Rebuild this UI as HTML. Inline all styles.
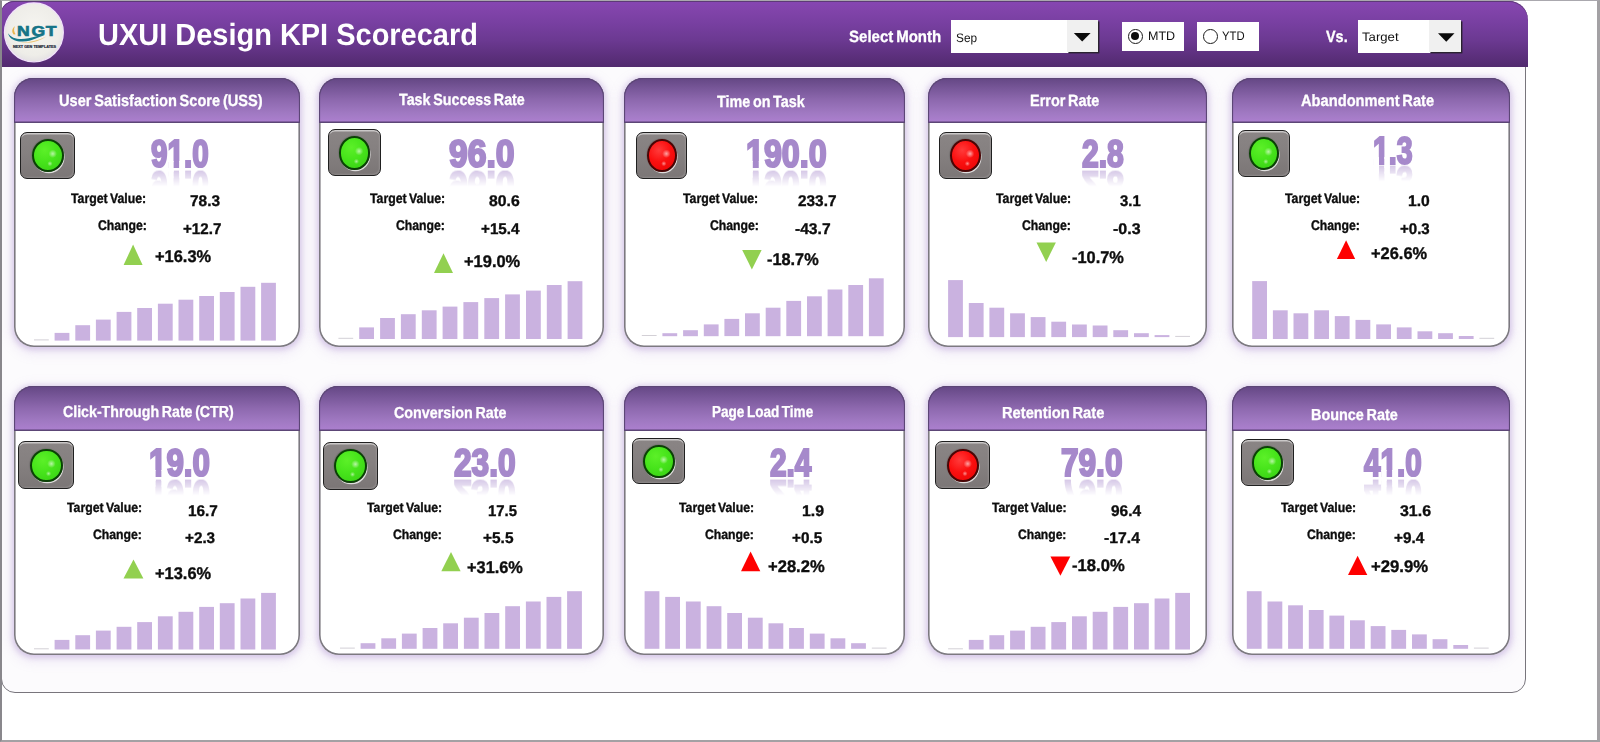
<!DOCTYPE html>
<html lang="en">
<head>
<meta charset="utf-8">
<title>UXUI Design KPI Scorecard</title>
<style>
*{box-sizing:border-box;margin:0;padding:0}
html,body{width:1600px;height:742px;overflow:hidden;background:#fff}
body{position:relative;font-family:"Liberation Sans",sans-serif;color:#111}
.frame{position:absolute;left:0;top:0;width:1600px;height:742px;border:2px solid #a3a1a4;border-top:1px solid rgba(118,114,124,.62);border-left:2px solid #89878c;border-right-width:3px;z-index:50;pointer-events:none}
.panel{position:absolute;left:1px;top:1px;width:1525px;height:692px;border:1px solid #78757c;border-radius:13px 18px 14px 14px;background:#fcfbfd;overflow:hidden}
.topbar{position:absolute;z-index:2;left:1px;top:1px;width:1527px;height:65.5px;border-radius:13px 19px 0 0;
 background:linear-gradient(#8746b3 0%,#8244ab 12%,#773fa0 35%,#6b3991 60%,#5b2f7b 85%,#512a6e 100%);
 box-shadow:inset 0 1px 0 #5d3a77}
.t{position:absolute;white-space:nowrap;transform-origin:0 0;font-weight:bold;margin:0;text-rendering:geometricPrecision}
.t.w{color:#fff}
.t.k{color:#0d0d0d;-webkit-text-stroke-width:.35px;word-spacing:-.09em}
.t.s{-webkit-text-stroke-width:.3px;word-spacing:-.09em}
.t.n{font-weight:normal;color:#111}
.ov{position:absolute;left:0;top:0;pointer-events:none;overflow:visible}
.card{position:absolute;border-radius:19px 19px 20px 20px;background:#fff;
 box-shadow:inset 0 0 0 1.6px #7c7980,0 1px 5px 1.5px rgba(150,115,195,.27),0 3px 12px 4px rgba(165,135,210,.15)}
.chead{position:absolute;left:0;right:0;top:0;height:44.7px;border-radius:19px 19px 0 0;
 background:linear-gradient(#644784 0%,#79589a 25%,#8e69af 50%,#a079c2 78%,#ad80d0 100%);
 box-shadow:inset 0 0 0 1.1px #5c4676,inset 0 -1.6px 0 0 #5a4174}
.val{text-rendering:auto;color:#a689cb;-webkit-text-stroke:2.2px #a689cb;
 -webkit-box-reflect:below -9.4px linear-gradient(to bottom,rgba(255,255,255,0) 42%,rgba(255,255,255,.5) 88%)}
.val i{position:absolute;background:#fff}
.ind{position:absolute;border-radius:7px;border:1.85px solid #202020;
 background:linear-gradient(#8a8585 0%,#858080 45%,#7b7676 100%);
 box-shadow:inset 0 2.2px 0 -0.6px rgba(255,255,255,.55),inset -1.2px -1.2px 1px rgba(255,255,255,.12)}
.ind i{position:absolute;left:20%;top:13.6%;width:61.2%;height:74.6%;border-radius:50%;border:2px solid #0b3d06;
 box-shadow:.9px 1.6px .5px -.35px rgba(255,255,255,.75),-0.5px -0.6px 1px rgba(0,0,0,.2)}
.ind.g i{background:radial-gradient(circle 4.2px at 67% 44%,rgba(255,255,255,.6),rgba(255,255,255,0)),radial-gradient(circle 2.6px at 57% 78%,rgba(255,255,255,.55),rgba(255,255,255,0)),radial-gradient(circle at 38% 32%,#5cf028 0,#47e41b 45%,#3cd616 80%,#34c512 100%);border-color:#0a4205}
.ind.r i{background:radial-gradient(circle 4.2px at 67% 44%,rgba(255,255,255,.6),rgba(255,255,255,0)),radial-gradient(circle 2.6px at 57% 78%,rgba(255,255,255,.55),rgba(255,255,255,0)),radial-gradient(circle at 38% 32%,#ff3a3a 0,#fb1010 45%,#ee0808 80%,#d40606 100%);border-color:#4a0505}
.dd{position:absolute;background:#fff}
.dd b{position:absolute;right:0;top:0;bottom:1px;background:#f0f0f0;box-shadow:1.4px 1.4px 0 #2a2230}
.rb{position:absolute;background:#fff;height:28.8px;width:62.4px;top:21.1px}
.rb i{position:absolute;left:6.4px;top:7.3px;width:14.8px;height:14.8px;border-radius:50%;border:1.35px solid #1a1a1a;background:#fff}
.rb i.on:after{content:"";position:absolute;left:2px;top:2px;width:8.1px;height:8.1px;border-radius:50%;background:#0a0a0a}
</style>
</head>
<body>
<header class="topbar">
<svg class="ov logo" width="70" height="66" viewBox="1 1 70 66">
<defs><radialGradient id="lg" cx="50%" cy="45%" r="55%"><stop offset="0" stop-color="#f6f5f1"/><stop offset=".8" stop-color="#eeede8"/><stop offset="1" stop-color="#e4e1e3"/></radialGradient></defs>
<circle cx="33.9" cy="32.4" r="29.4" fill="url(#lg)" stroke="#f1e2fa" stroke-width="1.3"/>
<path d="M8 33.2 C11.5 38.6 19.5 40.2 28.5 38.2 C35 36.7 39.5 34.9 44.6 35.2 C38.5 36.6 33 41.2 22.5 41.6 C14.5 41.8 9.3 38.4 8 33.2Z" fill="#16788a"/>
<path d="M13.6 34.4 C11.3 31.6 12.2 28.2 14.9 26.3 C13.6 29 13.9 32 15.6 34.2Z" fill="#e9b64e"/>
<path d="M20 42.4 C29 42.6 37.5 40.6 46.4 36.4 C38.5 41.4 29.5 44 20 42.4Z" fill="#e9b64e" opacity=".85"/>
<text transform="translate(16.9 36) scale(1.14 1)" x="0 12.75 25.3" y="0" font-family="Liberation Sans, sans-serif" font-weight="bold" font-size="15.4" fill="#157487" stroke="#157487" stroke-width=".7">NGT</text>
<text x="13" y="47.6" font-family="Liberation Sans, sans-serif" font-weight="bold" font-size="2.6" fill="#1e2a3a" stroke="#1e2a3a" stroke-width=".15" textLength="43" lengthAdjust="spacingAndGlyphs">NEXT GEN TEMPLATES</text>
</svg>
<h1 class="t w" style="left:96.7px;top:19.0px;font-size:30.65px;line-height:30.65px;transform:scaleX(0.9454);">UXUI Design KPI Scorecard</h1>
<div class="t w s" style="left:848.1px;top:28.1px;font-size:16.38px;line-height:16.38px;transform:scaleX(0.9193);">Select Month</div>
<div class="dd" style="left:950px;top:18.5px;width:146.5px;height:33px"><b style="width:31px"></b></div>
<div class="t n" style="left:954.5px;top:30.5px;font-size:12.32px;line-height:12.32px;transform:scaleX(0.9607);">Sep</div>
<div class="rb" style="left:1120.7px"><i class="on"></i></div>
<div class="rb" style="left:1196px"><i></i></div>
<div class="t n" style="left:1146.5px;top:28.9px;font-size:12.46px;line-height:12.46px;transform:scaleX(1.0054);">MTD</div>
<div class="t n" style="left:1221.3px;top:28.9px;font-size:12.46px;line-height:12.46px;transform:scaleX(0.9059);">YTD</div>
<div class="t w s" style="left:1324.9px;top:28.1px;font-size:16.23px;line-height:16.23px;transform:scaleX(0.8893);">Vs.</div>
<div class="dd" style="left:1357.3px;top:19px;width:102.5px;height:33px"><b style="width:31.5px"></b></div>
<div class="t n" style="left:1361.1px;top:29.9px;font-size:12.32px;line-height:12.32px;transform:scaleX(1.0684);">Target</div>
<svg class="ov" width="1527" height="66" viewBox="1 1 1527 66"><polygon points="1073.8,33 1090.6,33 1082.2,41.6" fill="#0a0a0a"/><polygon points="1438,33.3 1454.5,33.3 1446.25,41.8" fill="#0a0a0a"/></svg>
</header>
<main class="panel">
<section class="card" style="left:12px;top:76px;width:286px;height:269px">
<header class="chead"><h2 class="t w s" style="left:44.6px;top:14.5px;font-size:16.23px;line-height:16.23px;transform:scaleX(0.8994);">User Satisfaction Score (USS)</h2></header>
<div class="ind g" style="left:6.0px;top:54.0px;width:55.0px;height:46.7px"><i></i></div>
<div class="t val" style="left:137.0px;top:58.1px;font-size:37.90px;line-height:37.90px;transform:scaleX(0.7809)">91.0<i style="left:21.62px;top:24.91px;width:7.36px;height:10.67px"></i><i style="left:36.07px;top:24.91px;width:6.53px;height:10.67px"></i></div>
<div class="t k" style="left:57.0px;top:114.3px;font-size:13.91px;line-height:13.91px;transform:scaleX(0.8837);">Target Value:</div>
<div class="t k" style="left:175.5px;top:115.8px;font-size:15.51px;line-height:15.51px;transform:scaleX(0.9937);">78.3</div>
<div class="t k" style="left:83.7px;top:140.9px;font-size:13.91px;line-height:13.91px;transform:scaleX(0.8797);">Change:</div>
<div class="t k" style="left:168.7px;top:143.8px;font-size:15.51px;line-height:15.51px;transform:scaleX(0.9779);">+12.7</div>
<div class="t k" style="left:141.4px;top:171.3px;font-size:16.96px;line-height:16.96px;transform:scaleX(0.9685);">+16.3%</div>
<svg class="ov" width="286" height="269" fill="#cab2e0"><polygon points="109.6,187.0 128.6,187.0 119.1,166.6" fill="#92d050"/><rect x="20.0" y="261.4" width="14.8" height="1" fill="#d3d0d6"/><rect x="40.6" y="254.9" width="14.8" height="7.7"/><rect x="61.3" y="247.2" width="14.8" height="15.4"/><rect x="81.9" y="241.6" width="14.8" height="21.0"/><rect x="102.6" y="233.9" width="14.8" height="28.7"/><rect x="123.2" y="230.0" width="14.8" height="32.6"/><rect x="143.9" y="225.7" width="14.8" height="36.9"/><rect x="164.5" y="221.7" width="14.8" height="40.9"/><rect x="185.2" y="218.0" width="14.8" height="44.6"/><rect x="205.8" y="214.0" width="14.8" height="48.6"/><rect x="226.5" y="208.8" width="14.8" height="53.8"/><rect x="247.1" y="204.8" width="14.8" height="57.8"/></svg>
</section>
<section class="card" style="left:317px;top:76px;width:285px;height:269px">
<header class="chead"><h2 class="t w s" style="left:79.6px;top:13.9px;font-size:16.23px;line-height:16.23px;transform:scaleX(0.8808);">Task Success Rate</h2></header>
<div class="ind g" style="left:8.7px;top:51.3px;width:53.0px;height:46.7px"><i></i></div>
<div class="t val" style="left:129.8px;top:58.1px;font-size:37.90px;line-height:37.90px;transform:scaleX(0.8890)">96.0</div>
<div class="t k" style="left:50.5px;top:114.3px;font-size:13.91px;line-height:13.91px;transform:scaleX(0.8837);">Target Value:</div>
<div class="t k" style="left:169.9px;top:115.8px;font-size:15.51px;line-height:15.51px;transform:scaleX(1.0173);">80.6</div>
<div class="t k" style="left:77.2px;top:140.9px;font-size:13.91px;line-height:13.91px;transform:scaleX(0.8797);">Change:</div>
<div class="t k" style="left:162.2px;top:144.2px;font-size:15.51px;line-height:15.51px;transform:scaleX(0.9815);">+15.4</div>
<div class="t k" style="left:145.4px;top:175.9px;font-size:16.96px;line-height:16.96px;transform:scaleX(0.9709);">+19.0%</div>
<svg class="ov" width="285" height="269" fill="#cab2e0"><polygon points="115.0,195.0 134.0,195.0 124.5,175.3" fill="#92d050"/><rect x="19.4" y="259.8" width="14.8" height="1" fill="#d3d0d6"/><rect x="40.2" y="249.4" width="14.8" height="11.6"/><rect x="61.1" y="240.0" width="14.8" height="21.0"/><rect x="81.9" y="236.2" width="14.8" height="24.8"/><rect x="102.8" y="232.3" width="14.8" height="28.7"/><rect x="123.6" y="228.6" width="14.8" height="32.4"/><rect x="144.4" y="224.1" width="14.8" height="36.9"/><rect x="165.3" y="220.1" width="14.8" height="40.9"/><rect x="186.1" y="216.4" width="14.8" height="44.6"/><rect x="207.0" y="212.6" width="14.8" height="48.4"/><rect x="227.8" y="207.0" width="14.8" height="54.0"/><rect x="248.6" y="203.2" width="14.8" height="57.8"/></svg>
</section>
<section class="card" style="left:622px;top:76px;width:281px;height:269px">
<header class="chead"><h2 class="t w s" style="left:92.9px;top:15.5px;font-size:16.23px;line-height:16.23px;transform:scaleX(0.8842);">Time on Task</h2></header>
<div class="ind r" style="left:12.1px;top:54.0px;width:50.8px;height:46.7px"><i></i></div>
<div class="t val" style="left:122.0px;top:58.1px;font-size:37.90px;line-height:37.90px;transform:scaleX(0.8498)">190.0<i style="left:0.54px;top:24.91px;width:7.36px;height:10.67px"></i><i style="left:15.00px;top:24.91px;width:6.53px;height:10.67px"></i></div>
<div class="t k" style="left:59.0px;top:114.3px;font-size:13.91px;line-height:13.91px;transform:scaleX(0.8837);">Target Value:</div>
<div class="t k" style="left:173.6px;top:115.9px;font-size:15.51px;line-height:15.51px;transform:scaleX(0.9911);">233.7</div>
<div class="t k" style="left:85.7px;top:140.9px;font-size:13.91px;line-height:13.91px;transform:scaleX(0.8797);">Change:</div>
<div class="t k" style="left:170.7px;top:143.9px;font-size:15.51px;line-height:15.51px;transform:scaleX(1.0066);">-43.7</div>
<div class="t k" style="left:142.6px;top:173.7px;font-size:16.96px;line-height:16.96px;transform:scaleX(0.9629);">-18.7%</div>
<svg class="ov" width="281" height="269" fill="#cab2e0"><polygon points="118.2,172.0 137.6,172.0 127.9,191.5" fill="#92d050"/><rect x="17.8" y="257.0" width="14.8" height="1" fill="#d3d0d6"/><rect x="38.4" y="255.2" width="14.8" height="3.0"/><rect x="59.1" y="252.2" width="14.8" height="6.0"/><rect x="79.8" y="246.4" width="14.8" height="11.8"/><rect x="100.4" y="240.9" width="14.8" height="17.2"/><rect x="121.0" y="235.3" width="14.8" height="22.9"/><rect x="141.7" y="229.7" width="14.8" height="28.5"/><rect x="162.3" y="222.9" width="14.8" height="35.2"/><rect x="183.0" y="218.3" width="14.8" height="39.9"/><rect x="203.6" y="211.5" width="14.8" height="46.7"/><rect x="224.3" y="207.0" width="14.8" height="51.2"/><rect x="244.9" y="200.3" width="14.8" height="57.9"/></svg>
</section>
<section class="card" style="left:926px;top:76px;width:279px;height:269px">
<header class="chead"><h2 class="t w s" style="left:101.8px;top:15.1px;font-size:16.23px;line-height:16.23px;transform:scaleX(0.8908);">Error Rate</h2></header>
<div class="ind r" style="left:11.4px;top:54.3px;width:52.4px;height:46.4px"><i></i></div>
<div class="t val" style="left:153.6px;top:58.1px;font-size:37.90px;line-height:37.90px;transform:scaleX(0.7943)">2.8</div>
<div class="t k" style="left:67.5px;top:114.3px;font-size:13.91px;line-height:13.91px;transform:scaleX(0.8837);">Target Value:</div>
<div class="t k" style="left:192.2px;top:115.9px;font-size:15.51px;line-height:15.51px;transform:scaleX(0.9582);">3.1</div>
<div class="t k" style="left:94.2px;top:140.9px;font-size:13.91px;line-height:13.91px;transform:scaleX(0.8797);">Change:</div>
<div class="t k" style="left:184.7px;top:143.8px;font-size:15.51px;line-height:15.51px;transform:scaleX(1.0313);">-0.3</div>
<div class="t k" style="left:143.6px;top:172.3px;font-size:16.96px;line-height:16.96px;transform:scaleX(0.9673);">-10.7%</div>
<svg class="ov" width="279" height="269" fill="#cab2e0"><polygon points="108.5,164.5 127.9,164.5 118.2,183.9" fill="#92d050"/><rect x="20.1" y="202.1" width="14.8" height="57.0"/><rect x="40.8" y="225.0" width="14.8" height="34.1"/><rect x="61.4" y="229.7" width="14.8" height="29.4"/><rect x="82.1" y="235.3" width="14.8" height="23.8"/><rect x="102.7" y="239.1" width="14.8" height="20.0"/><rect x="123.3" y="243.7" width="14.8" height="15.4"/><rect x="144.0" y="246.5" width="14.8" height="12.6"/><rect x="164.7" y="247.5" width="14.8" height="11.6"/><rect x="185.3" y="252.2" width="14.8" height="6.9"/><rect x="206.0" y="255.2" width="14.8" height="3.9"/><rect x="226.6" y="257.1" width="14.8" height="2.0"/><rect x="247.2" y="257.9" width="14.8" height="1" fill="#d3d0d6"/></svg>
</section>
<section class="card" style="left:1230px;top:76px;width:278px;height:269px">
<header class="chead"><h2 class="t w s" style="left:69.4px;top:15.1px;font-size:16.23px;line-height:16.23px;transform:scaleX(0.9043);">Abandonment Rate</h2></header>
<div class="ind g" style="left:6.3px;top:52.4px;width:51.4px;height:46.3px"><i></i></div>
<div class="t val" style="left:140.5px;top:54.5px;font-size:37.90px;line-height:37.90px;transform:scaleX(0.7515)">1.3<i style="left:0.54px;top:24.91px;width:7.36px;height:10.67px"></i><i style="left:15.00px;top:24.91px;width:6.53px;height:10.67px"></i></div>
<div class="t k" style="left:52.5px;top:114.3px;font-size:13.91px;line-height:13.91px;transform:scaleX(0.8837);">Target Value:</div>
<div class="t k" style="left:175.8px;top:115.8px;font-size:15.51px;line-height:15.51px;transform:scaleX(1.0103);">1.0</div>
<div class="t k" style="left:79.2px;top:140.9px;font-size:13.91px;line-height:13.91px;transform:scaleX(0.8797);">Change:</div>
<div class="t k" style="left:167.7px;top:143.8px;font-size:15.51px;line-height:15.51px;transform:scaleX(0.9718);">+0.3</div>
<div class="t k" style="left:139.4px;top:167.9px;font-size:16.96px;line-height:16.96px;transform:scaleX(0.9685);">+26.6%</div>
<svg class="ov" width="278" height="269" fill="#cab2e0"><polygon points="104.9,181.1 123.2,181.1 114.1,162.3" fill="#fe0000"/><rect x="20.2" y="203.1" width="14.8" height="57.9"/><rect x="40.9" y="232.3" width="14.8" height="28.7"/><rect x="61.5" y="235.3" width="14.8" height="25.7"/><rect x="82.2" y="232.3" width="14.8" height="28.7"/><rect x="102.8" y="238.1" width="14.8" height="22.9"/><rect x="123.5" y="241.9" width="14.8" height="19.1"/><rect x="144.2" y="246.4" width="14.8" height="14.6"/><rect x="164.8" y="249.4" width="14.8" height="11.6"/><rect x="185.5" y="253.3" width="14.8" height="7.7"/><rect x="206.1" y="255.2" width="14.8" height="5.8"/><rect x="226.8" y="258.0" width="14.8" height="3.0"/><rect x="247.4" y="259.8" width="14.8" height="1" fill="#d3d0d6"/></svg>
</section>
<section class="card" style="left:12px;top:384px;width:286px;height:269px">
<header class="chead"><h2 class="t w s" style="left:49.4px;top:18.7px;font-size:15.94px;line-height:15.94px;transform:scaleX(0.8896);">Click-Through Rate (CTR)</h2></header>
<div class="ind g" style="left:4.0px;top:55.4px;width:55.7px;height:47.4px"><i></i></div>
<div class="t val" style="left:135.0px;top:59.1px;font-size:37.90px;line-height:37.90px;transform:scaleX(0.8250)">19.0<i style="left:0.54px;top:24.91px;width:7.36px;height:10.67px"></i><i style="left:15.00px;top:24.91px;width:6.53px;height:10.67px"></i></div>
<div class="t k" style="left:52.5px;top:115.0px;font-size:13.55px;line-height:13.55px;transform:scaleX(0.9069);">Target Value:</div>
<div class="t k" style="left:173.7px;top:117.5px;font-size:15.51px;line-height:15.51px;transform:scaleX(0.9891);">16.7</div>
<div class="t k" style="left:78.7px;top:141.6px;font-size:13.55px;line-height:13.55px;transform:scaleX(0.9033);">Change:</div>
<div class="t k" style="left:170.7px;top:144.9px;font-size:15.51px;line-height:15.51px;transform:scaleX(0.9837);">+2.3</div>
<div class="t k" style="left:140.9px;top:179.9px;font-size:16.96px;line-height:16.96px;transform:scaleX(0.9685);">+13.6%</div>
<svg class="ov" width="286" height="269" fill="#cab2e0"><polygon points="109.5,192.6 129.4,192.6 119.5,173.4" fill="#92d050"/><rect x="20.0" y="262.3" width="14.8" height="1" fill="#d3d0d6"/><rect x="40.6" y="253.9" width="14.8" height="9.6"/><rect x="61.3" y="249.2" width="14.8" height="14.2"/><rect x="81.9" y="244.6" width="14.8" height="18.9"/><rect x="102.6" y="240.8" width="14.8" height="22.7"/><rect x="123.2" y="236.1" width="14.8" height="27.4"/><rect x="143.9" y="230.3" width="14.8" height="33.2"/><rect x="164.5" y="225.8" width="14.8" height="37.7"/><rect x="185.2" y="220.9" width="14.8" height="42.6"/><rect x="205.8" y="217.2" width="14.8" height="46.3"/><rect x="226.5" y="212.5" width="14.8" height="51.0"/><rect x="247.1" y="206.9" width="14.8" height="56.6"/></svg>
</section>
<section class="card" style="left:317px;top:384px;width:285px;height:269px">
<header class="chead"><h2 class="t w s" style="left:74.9px;top:19.6px;font-size:15.94px;line-height:15.94px;transform:scaleX(0.8984);">Conversion Rate</h2></header>
<div class="ind g" style="left:3.5px;top:56.3px;width:55.1px;height:47.4px"><i></i></div>
<div class="t val" style="left:135.1px;top:59.1px;font-size:37.90px;line-height:37.90px;transform:scaleX(0.8359)">23.0</div>
<div class="t k" style="left:47.5px;top:115.0px;font-size:13.55px;line-height:13.55px;transform:scaleX(0.9069);">Target Value:</div>
<div class="t k" style="left:168.8px;top:117.7px;font-size:15.51px;line-height:15.51px;transform:scaleX(0.9624);">17.5</div>
<div class="t k" style="left:73.7px;top:141.6px;font-size:13.55px;line-height:13.55px;transform:scaleX(0.9033);">Change:</div>
<div class="t k" style="left:163.7px;top:145.1px;font-size:15.51px;line-height:15.51px;transform:scaleX(0.9961);">+5.5</div>
<div class="t k" style="left:148.4px;top:174.1px;font-size:16.96px;line-height:16.96px;transform:scaleX(0.9647);">+31.6%</div>
<svg class="ov" width="285" height="269" fill="#cab2e0"><polygon points="122.3,185.2 141.6,185.2 132.0,166.0" fill="#92d050"/><rect x="21.0" y="261.6" width="14.8" height="1" fill="#d3d0d6"/><rect x="41.6" y="257.2" width="14.8" height="5.6"/><rect x="62.3" y="252.3" width="14.8" height="10.5"/><rect x="82.9" y="247.6" width="14.8" height="15.2"/><rect x="103.6" y="242.0" width="14.8" height="20.8"/><rect x="124.2" y="237.3" width="14.8" height="25.5"/><rect x="144.9" y="231.7" width="14.8" height="31.1"/><rect x="165.5" y="227.0" width="14.8" height="35.8"/><rect x="186.2" y="220.2" width="14.8" height="42.6"/><rect x="206.9" y="215.5" width="14.8" height="47.2"/><rect x="227.5" y="210.9" width="14.8" height="51.9"/><rect x="248.1" y="205.2" width="14.8" height="57.6"/></svg>
</section>
<section class="card" style="left:622px;top:384px;width:281px;height:269px">
<header class="chead"><h2 class="t w s" style="left:88.4px;top:18.7px;font-size:15.94px;line-height:15.94px;transform:scaleX(0.8499);">Page Load Time</h2></header>
<div class="ind g" style="left:8.2px;top:52.4px;width:53.1px;height:46.0px"><i></i></div>
<div class="t val" style="left:145.6px;top:59.1px;font-size:37.90px;line-height:37.90px;transform:scaleX(0.7871)">2.4</div>
<div class="t k" style="left:55.0px;top:115.0px;font-size:13.55px;line-height:13.55px;transform:scaleX(0.9069);">Target Value:</div>
<div class="t k" style="left:177.8px;top:117.5px;font-size:15.51px;line-height:15.51px;transform:scaleX(1.0245);">1.9</div>
<div class="t k" style="left:81.2px;top:141.6px;font-size:13.55px;line-height:13.55px;transform:scaleX(0.9033);">Change:</div>
<div class="t k" style="left:168.2px;top:144.9px;font-size:15.51px;line-height:15.51px;transform:scaleX(0.9850);">+0.5</div>
<div class="t k" style="left:143.9px;top:172.7px;font-size:16.96px;line-height:16.96px;transform:scaleX(0.9787);">+28.2%</div>
<svg class="ov" width="281" height="269" fill="#cab2e0"><polygon points="117.0,185.2 136.3,185.2 126.6,165.4" fill="#fe0000"/><rect x="20.6" y="205.2" width="14.8" height="57.6"/><rect x="41.2" y="210.9" width="14.8" height="51.9"/><rect x="61.9" y="215.5" width="14.8" height="47.2"/><rect x="82.6" y="220.2" width="14.8" height="42.6"/><rect x="103.2" y="227.0" width="14.8" height="35.8"/><rect x="123.9" y="231.7" width="14.8" height="31.1"/><rect x="144.5" y="237.3" width="14.8" height="25.5"/><rect x="165.1" y="242.0" width="14.8" height="20.8"/><rect x="185.8" y="247.6" width="14.8" height="15.2"/><rect x="206.5" y="252.3" width="14.8" height="10.5"/><rect x="227.1" y="257.2" width="14.8" height="5.6"/><rect x="247.8" y="261.6" width="14.8" height="1" fill="#d3d0d6"/></svg>
</section>
<section class="card" style="left:926px;top:384px;width:279px;height:269px">
<header class="chead"><h2 class="t w s" style="left:74.0px;top:19.6px;font-size:15.94px;line-height:15.94px;transform:scaleX(0.9215);">Retention Rate</h2></header>
<div class="ind r" style="left:7.4px;top:55.4px;width:54.9px;height:47.4px"><i></i></div>
<div class="t val" style="left:133.0px;top:59.1px;font-size:37.90px;line-height:37.90px;transform:scaleX(0.8332)">79.0</div>
<div class="t k" style="left:64.0px;top:115.0px;font-size:13.55px;line-height:13.55px;transform:scaleX(0.9010);">Target Value:</div>
<div class="t k" style="left:182.7px;top:117.5px;font-size:15.51px;line-height:15.51px;transform:scaleX(0.9969);">96.4</div>
<div class="t k" style="left:89.7px;top:141.6px;font-size:13.55px;line-height:13.55px;transform:scaleX(0.8932);">Change:</div>
<div class="t k" style="left:175.7px;top:145.1px;font-size:15.51px;line-height:15.51px;transform:scaleX(1.0158);">-17.4</div>
<div class="t k" style="left:144.1px;top:172.1px;font-size:16.96px;line-height:16.96px;transform:scaleX(0.9816);">-18.0%</div>
<svg class="ov" width="279" height="269" fill="#cab2e0"><polygon points="122.4,170.4 142.3,170.4 132.4,189.7" fill="#fe0000"/><rect x="20.1" y="262.3" width="14.8" height="1" fill="#d3d0d6"/><rect x="40.8" y="253.9" width="14.8" height="9.6"/><rect x="61.4" y="249.2" width="14.8" height="14.2"/><rect x="82.1" y="244.6" width="14.8" height="18.9"/><rect x="102.7" y="240.8" width="14.8" height="22.7"/><rect x="123.3" y="236.1" width="14.8" height="27.4"/><rect x="144.0" y="230.3" width="14.8" height="33.2"/><rect x="164.7" y="225.8" width="14.8" height="37.7"/><rect x="185.3" y="220.9" width="14.8" height="42.6"/><rect x="206.0" y="217.2" width="14.8" height="46.3"/><rect x="226.6" y="212.5" width="14.8" height="51.0"/><rect x="247.2" y="206.9" width="14.8" height="56.6"/></svg>
</section>
<section class="card" style="left:1230px;top:384px;width:278px;height:269px">
<header class="chead"><h2 class="t w s" style="left:79.3px;top:21.9px;font-size:15.94px;line-height:15.94px;transform:scaleX(0.9051);">Bounce Rate</h2></header>
<div class="ind g" style="left:8.8px;top:53.3px;width:53.3px;height:46.5px"><i></i></div>
<div class="t val" style="left:131.8px;top:59.1px;font-size:37.90px;line-height:37.90px;transform:scaleX(0.7813)">41.0<i style="left:21.62px;top:24.91px;width:7.36px;height:10.67px"></i><i style="left:36.07px;top:24.91px;width:6.53px;height:10.67px"></i></div>
<div class="t k" style="left:49.0px;top:115.0px;font-size:13.55px;line-height:13.55px;transform:scaleX(0.9069);">Target Value:</div>
<div class="t k" style="left:167.7px;top:117.5px;font-size:15.51px;line-height:15.51px;transform:scaleX(1.0291);">31.6</div>
<div class="t k" style="left:75.2px;top:141.6px;font-size:13.55px;line-height:13.55px;transform:scaleX(0.9033);">Change:</div>
<div class="t k" style="left:162.2px;top:144.9px;font-size:15.51px;line-height:15.51px;transform:scaleX(0.9851);">+9.4</div>
<div class="t k" style="left:139.4px;top:172.7px;font-size:16.96px;line-height:16.96px;transform:scaleX(0.9859);">+29.9%</div>
<svg class="ov" width="278" height="269" fill="#cab2e0"><polygon points="116.0,189.1 135.3,189.1 125.6,169.8" fill="#fe0000"/><rect x="14.8" y="205.2" width="14.8" height="57.6"/><rect x="35.5" y="215.5" width="14.8" height="47.2"/><rect x="56.1" y="219.3" width="14.8" height="43.5"/><rect x="76.8" y="224.0" width="14.8" height="38.8"/><rect x="97.4" y="229.6" width="14.8" height="33.2"/><rect x="118.0" y="234.3" width="14.8" height="28.5"/><rect x="138.7" y="240.1" width="14.8" height="22.7"/><rect x="159.3" y="243.9" width="14.8" height="18.9"/><rect x="180.0" y="248.4" width="14.8" height="14.4"/><rect x="200.6" y="253.2" width="14.8" height="9.6"/><rect x="221.3" y="259.0" width="14.8" height="3.8"/><rect x="241.9" y="261.6" width="14.8" height="1" fill="#d3d0d6"/></svg>
</section>
</main>
<div class="frame"></div>
</body>
</html>
